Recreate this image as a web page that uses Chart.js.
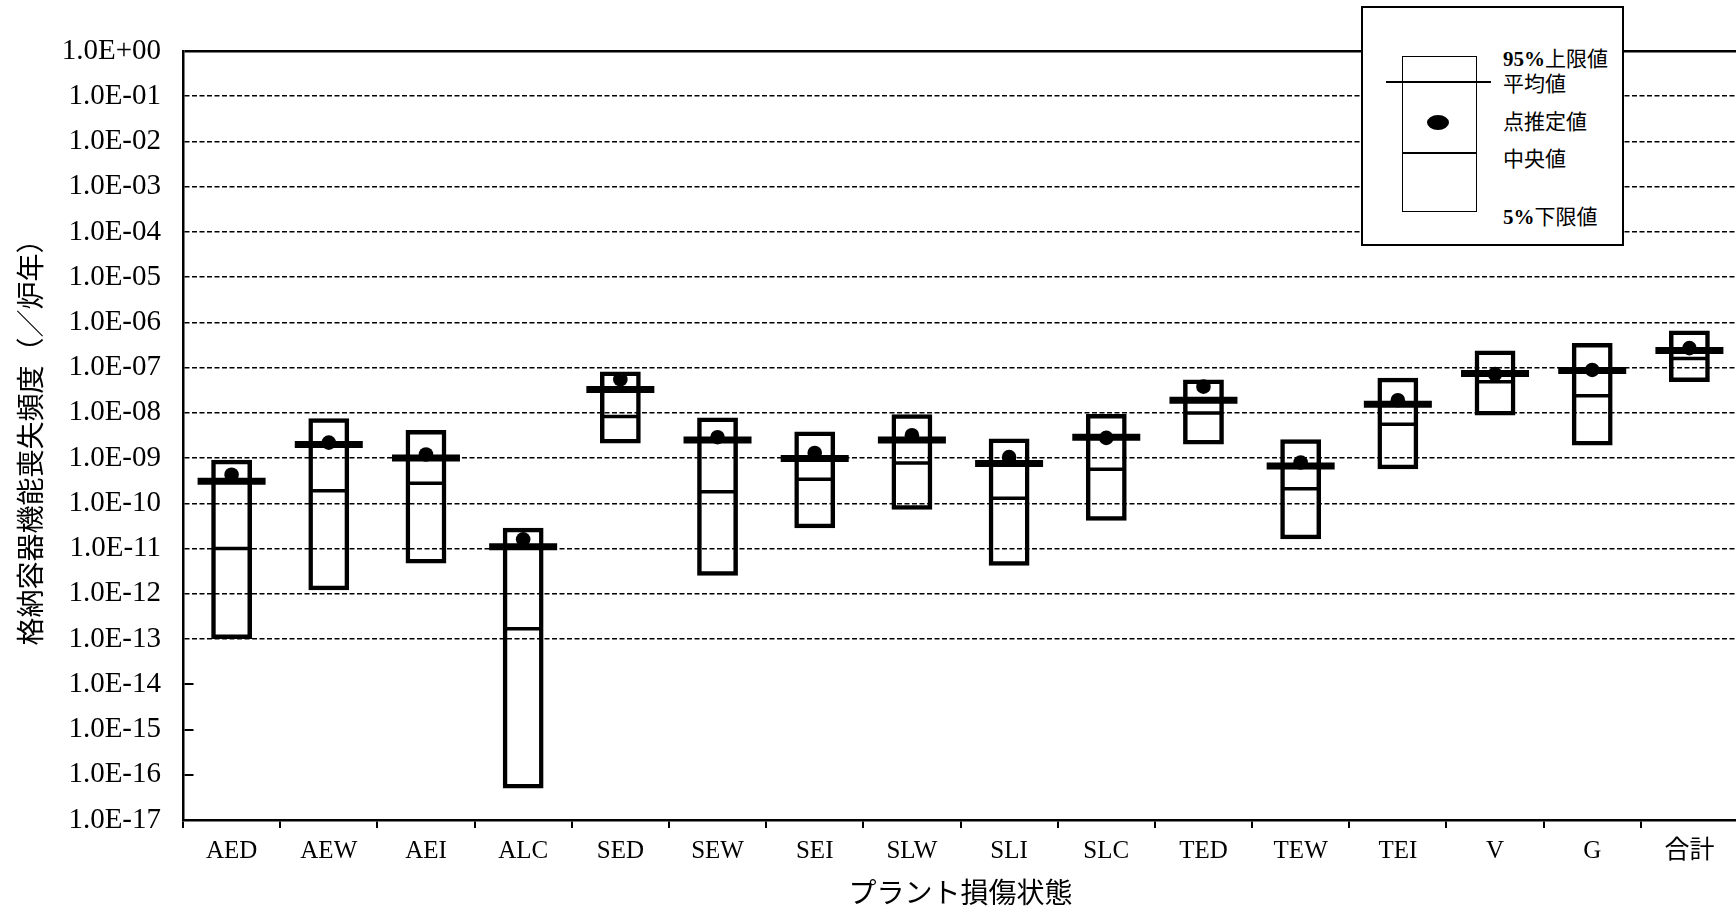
<!DOCTYPE html>
<html>
<head>
<meta charset="utf-8">
<script src="https://cdn.jsdelivr.net/npm/chart.js@4.4.1/dist/chart.umd.min.js"></script>
<style>
  html, body { margin: 0; padding: 0; background: #fff; overflow: hidden; }
  #wrap { position: relative; width: 1736px; height: 915px; overflow: hidden; }
  #chart { position: absolute; left: 0; top: 0; }
  .lg { position: absolute; box-sizing: border-box; }
  .lg-frame { left: 1361px; top: 6px; width: 263px; height: 240px; border: 2px solid #000; background: #fff; }
  .lg-rect { left: 1402px; top: 56px; width: 75px; height: 156px; border: 1.5px solid #000; }
  .lg-line { height: 1.5px; background: #000; }
  .lg-dot { left: 1427px; top: 115px; width: 22px; height: 15px; border-radius: 50%; background: #000; }
  .lg-text { left: 1503px; font-family: "Liberation Serif", "Noto Sans CJK JP", serif; font-size: 21px; line-height: 21px; color: #000; white-space: nowrap; }
  .lg-text b { font-weight: bold; }
</style>
</head>
<body>
<div id="wrap">
  <canvas id="chart" width="1738" height="915"></canvas>

  <!-- legend drawn as a small diagram, like the original -->
  <div class="lg lg-frame"></div>
  <div class="lg lg-rect"></div>
  <div class="lg lg-line" style="left:1386px; top:81px; width:105px;"></div>
  <div class="lg lg-line" style="left:1403px; top:152px; width:73px;"></div>
  <div class="lg lg-dot"></div>
  <div class="lg lg-text" style="top:49px;"><b>95%</b>上限値</div>
  <div class="lg lg-text" style="top:74px;">平均値</div>
  <div class="lg lg-text" style="top:112px;">点推定値</div>
  <div class="lg lg-text" style="top:149px;">中央値</div>
  <div class="lg lg-text" style="top:207px;"><b>5%</b>下限値</div>
</div>

<script>
// plant damage states
const categories = ['AED', 'AEW', 'AEI', 'ALC', 'SED', 'SEW', 'SEI', 'SLW', 'SLI', 'SLC', 'TED', 'TEW', 'TEI', 'V', 'G', '合計'];

// values (/reactor-year)
const upper95 = [9.2e-10, 7.6e-9, 4.2e-9, 2.9e-11, 8.2e-8, 7.9e-9, 3.9e-9, 9.3e-9, 2.7e-9, 9.5e-9, 5.5e-8, 2.6e-9, 6.0e-8, 2.4e-7, 3.5e-7, 6.6e-7];
const lower5 = [1.0e-13, 1.2e-12, 4.7e-12, 5.0e-17, 2.1e-9, 2.5e-12, 2.8e-11, 7.2e-11, 4.2e-12, 4.1e-11, 2.0e-9, 1.6e-11, 5.7e-10, 8.8e-9, 1.9e-9, 4.8e-8];
const medianVals = [1.0e-11, 1.9e-10, 2.8e-10, 1.7e-13, 8.3e-9, 1.8e-10, 3.4e-10, 7.8e-10, 1.3e-10, 5.7e-10, 1.0e-8, 2.1e-10, 5.6e-9, 4.9e-8, 2.4e-8, 1.6e-7];
const meanVals = [3.1e-10, 2.0e-9, 1.0e-9, 1.1e-11, 3.3e-8, 2.5e-9, 9.8e-10, 2.5e-9, 7.6e-10, 2.9e-9, 1.9e-8, 6.7e-10, 1.55e-8, 7.4e-8, 8.6e-8, 2.4e-7];
const pointEst = [4.3e-10, 2.2e-9, 1.2e-9, 1.6e-11, 5.5e-8, 2.9e-9, 1.3e-9, 3.2e-9, 1.05e-9, 2.8e-9, 3.8e-8, 8.0e-10, 1.9e-8, 7.2e-8, 8.9e-8, 2.7e-7];

// y axis decades
const yTickValues = [1e-17, 1e-16, 1e-15, 1e-14, 1e-13, 1e-12, 1e-11, 1e-10, 1e-9, 1e-8, 1e-7, 1e-6, 1e-5, 1e-4, 1e-3, 1e-2, 1e-1, 1];
const yTickLabels = ['1.0E-17', '1.0E-16', '1.0E-15', '1.0E-14', '1.0E-13', '1.0E-12', '1.0E-11', '1.0E-10', '1.0E-09', '1.0E-08', '1.0E-07', '1.0E-06', '1.0E-05', '1.0E-04', '1.0E-03', '1.0E-02', '1.0E-01', '1.0E+00'];

const serif = "'Liberation Serif', 'Noto Sans CJK JP', serif";
const cjk = "'Noto Sans CJK JP', sans-serif";

const ctx = document.getElementById('chart').getContext('2d');
new Chart(ctx, {
  type: 'bar',
  data: {
    labels: categories,
    datasets: [
      {
        type: 'line', label: '点推定値', data: pointEst, showLine: false,
        pointStyle: 'circle', pointRadius: 7.3, pointBackgroundColor: '#000', pointBorderWidth: 0,
        order: 0
      },
      {
        type: 'line', label: '平均値', data: meanVals, showLine: false,
        pointStyle: 'line', pointRadius: 34, pointBorderColor: '#000', pointBorderWidth: 7,
        order: 1
      },
      {
        type: 'line', label: '中央値', data: medianVals, showLine: false,
        pointStyle: 'line', pointRadius: 19, pointBorderColor: '#000', pointBorderWidth: 3.5,
        order: 2
      },
      {
        type: 'bar', label: '5%-95%', data: lower5.map((v, i) => [v, upper95[i]]),
        backgroundColor: 'rgba(0,0,0,0)', borderColor: '#000', borderWidth: 4.5, borderSkipped: false,
        barPercentage: 0.42, categoryPercentage: 1,
        order: 3
      }
    ]
  },
  options: {
    responsive: false,
    animation: false,
    events: [],
    layout: { autoPadding: false, padding: { top: 51, left: 0, right: 0, bottom: 0 } },
    plugins: { legend: { display: false }, tooltip: { enabled: false } },
    scales: {
      x: {
        offset: true,
        grid: { offset: true, drawOnChartArea: false, drawTicks: true, tickLength: 8, color: '#000', lineWidth: 2 },
        border: { display: true, color: '#000', width: 2.5 },
        ticks: { color: '#000', font: { family: serif, size: 25 }, padding: 8, maxRotation: 0, autoSkip: false },
        title: { display: true, text: 'プラント損傷状態', color: '#000', font: { family: cjk, size: 28 }, padding: { top: 0, bottom: 6 } },
        afterFit: s => { s.height = 95; }
      },
      y: {
        type: 'logarithmic',
        min: 1e-17,
        max: 1,
        afterBuildTicks: s => { s.ticks = yTickValues.map(v => ({ value: v })); },
        ticks: {
          color: '#000', font: { family: serif, size: 29 }, padding: 22, autoSkip: false,
          callback: v => { const i = yTickValues.indexOf(v); return i >= 0 ? yTickLabels[i] : ''; }
        },
        grid: {
          drawTicks: false,
          color: c => (c.tick && c.tick.value <= 1e-17) ? 'rgba(0,0,0,0)' : '#000',
          lineWidth: c => {
            if (!c.tick) return 1.5;
            if (c.tick.value >= 1) return 2.5;
            if (c.tick.value < 5e-14) return 2;
            return 1.5;
          }
        },
        border: {
          display: true, color: '#000', width: 2.5,
          // dashed grid lines; the three lowest decades only get a short inner tick
          dash: c => {
            if (!c.tick) return [];
            if (c.tick.value >= 1) return [];
            if (c.tick.value < 5e-14) return [9, 4000];
            return [5, 2.5];
          }
        },
        title: { display: true, text: '格納容器機能喪失頻度（／炉年）', color: '#000', font: { family: cjk, size: 28 }, padding: { top: 14, bottom: 0 } },
        afterFit: s => { s.width = 183; }
      }
    }
  }
});
</script>
</body>
</html>
